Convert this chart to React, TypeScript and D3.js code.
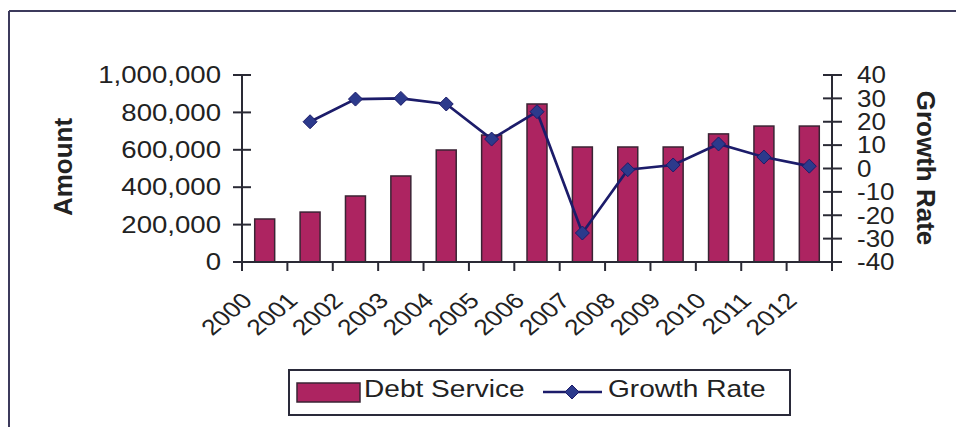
import React from "react";
import * as d3 from "d3";

const years = ["2000","2001","2002","2003","2004","2005","2006","2007","2008","2009","2010","2011","2012"];
const debtService = [230000, 267000, 353000, 460000, 599000, 679000, 845000, 615000, 615000, 615000, 685000, 727000, 727000];
const growthRate: (number | null)[] = [null, 20, 29.7, 30, 27.6, 12.6, 24.3, -27.6, -0.5, 1.5, 10.5, 4.9, 1];
const leftTicks = [0, 200000, 400000, 600000, 800000, 1000000];
const rightTicks = [-40, -30, -20, -10, 0, 10, 20, 30, 40];

const W = 956, H = 427;
const FONT = "'Liberation Sans', Arial, Helvetica, sans-serif";
const SX = 1.2;
const AXIS = "#2a2a35";
const BAR = "#ad2461";
const LINE = "#1c1c6a";
const MARK = "#2c3a8c";

export default function App() {
  const x = d3.scaleBand<string>().domain(years).range([242, 832]).padding(0);
  const bw = x.bandwidth();
  const barW = bw * 0.44;
  const yL = d3.scaleLinear().domain([0, 1000000]).range([262, 75]);
  const yR = d3.scaleLinear().domain([-40, 40]).range([262, 75]);
  const fmt = d3.format(",");
  const cx = (y: string) => (x(y) as number) + bw / 2;

  const pts = years.map((yr, i) => ({ yr, v: growthRate[i] })).filter(d => d.v !== null) as { yr: string; v: number }[];
  const line = d3.line<{ yr: string; v: number }>().x(d => cx(d.yr)).y(d => yR(d.v));
  const diamond = (px: number, py: number, r: number) => `M${px},${py - r}L${px + r},${py}L${px},${py + r}L${px - r},${py}Z`;

  const boundaries = d3.range(years.length + 1).map(i => 242 + i * bw);

  return (
    <svg width={W} height={H} style={{ position: "absolute", left: 0, top: 0, background: "#fff" }}>
      <rect x={0} y={0} width={W} height={H} fill="#fff" />
      {/* frame */}
      <line x1={9} y1={11} x2={W} y2={11} stroke="#3c3a5c" strokeWidth={2} />
      <line x1={9} y1={11} x2={9} y2={H} stroke="#3c3a5c" strokeWidth={2} />

      {/* bars */}
      {years.map((yr, i) => (
        <rect key={yr} x={cx(yr) - barW / 2} y={yL(debtService[i])} width={barW} height={yL(0) - yL(debtService[i])}
          fill={BAR} stroke="#3a2434" strokeWidth={1.5} />
      ))}

      {/* axes */}
      <line x1={242} y1={262} x2={832} y2={262} stroke={AXIS} strokeWidth={2} />
      <line x1={242} y1={75} x2={242} y2={262} stroke={AXIS} strokeWidth={2} />
      <line x1={832} y1={75} x2={832} y2={262} stroke={AXIS} strokeWidth={2} />
      {boundaries.map((bx, i) => (
        <line key={"xt" + i} x1={bx} y1={262} x2={bx} y2={271} stroke={AXIS} strokeWidth={2} />
      ))}
      {leftTicks.map(t => (
        <g key={"lt" + t}>
          <line x1={233} x2={251} y1={yL(t)} y2={yL(t)} stroke={AXIS} strokeWidth={2} />
          <text transform={`translate(221,${yL(t)}) scale(${SX},1)`} textAnchor="end" dy="0.36em"
            fontFamily={FONT} fontSize={23} fill="#222">{fmt(t)}</text>
        </g>
      ))}
      {rightTicks.map(t => (
        <g key={"rt" + t}>
          <line x1={823} x2={842} y1={yR(t)} y2={yR(t)} stroke={AXIS} strokeWidth={2} />
          <text transform={`translate(857,${yR(t)}) scale(1.13,1)`} textAnchor="start" dy="0.36em"
            fontFamily={FONT} fontSize={23} fill="#222">{t}</text>
        </g>
      ))}

      {/* x labels */}
      {years.map(yr => (
        <text key={"xl" + yr} transform={`translate(${cx(yr) - 11},${302}) scale(${SX},1) rotate(-45)`} textAnchor="end"
          fontFamily={FONT} fontSize={22} fill="#222">{yr}</text>
      ))}

      {/* axis titles */}
      <text transform={`translate(72,167) rotate(-90)`} textAnchor="middle" fontFamily={FONT} fontSize={26} fontWeight="bold" fill="#222">Amount</text>
      <text transform={`translate(917,168) rotate(90)`} textAnchor="middle" fontFamily={FONT} fontSize={26} fontWeight="bold" fill="#222">Growth Rate</text>

      {/* growth line */}
      <path d={line(pts) || ""} fill="none" stroke={LINE} strokeWidth={2.7} />
      {pts.map(d => (
        <path key={"m" + d.yr} d={diamond(cx(d.yr), yR(d.v), 7)} fill={MARK} stroke={LINE} strokeWidth={1} />
      ))}

      {/* legend */}
      <rect x={289} y={370} width={501} height={45} fill="#fff" stroke="#2a2a3a" strokeWidth={2} />
      <rect x={297} y={383} width={63} height={19} fill={BAR} stroke="#3a2434" strokeWidth={1.5} />
      <text transform={`translate(364,397) scale(1.17,1)`} fontFamily={FONT} fontSize={24} fill="#222">Debt Service</text>
      <line x1={543} x2={602} y1={392} y2={392} stroke={LINE} strokeWidth={2.5} />
      <path d={diamond(572, 392, 7)} fill={MARK} stroke={LINE} strokeWidth={1} />
      <text transform={`translate(608,397) scale(1.17,1)`} fontFamily={FONT} fontSize={24} fill="#222">Growth Rate</text>
    </svg>
  );
}
